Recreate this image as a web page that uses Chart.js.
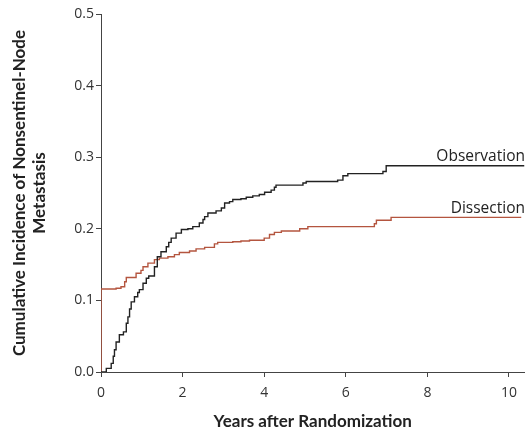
<!DOCTYPE html>
<html>
<head>
<meta charset="utf-8">
<script src="https://cdn.jsdelivr.net/npm/chart.js@4"></script>
<style>
  html, body { margin: 0; padding: 0; background: #fff; }
  #wrap { width: 525px; height: 433px; }
</style>
</head>
<body>
<div id="wrap"><canvas id="incidenceChart"></canvas></div>
<script>
// Observation arm: years after randomization and cumulative incidence
const obsYears = [0, 0.13, 0.25, 0.30, 0.33, 0.37, 0.45, 0.55, 0.62, 0.66, 0.70, 0.74, 0.82, 0.90, 0.94,
    1.03, 1.11, 1.17, 1.31, 1.38, 1.47, 1.60, 1.66, 1.72, 1.84, 1.97, 2.13, 2.25, 2.41, 2.50, 2.54,
    2.62, 2.82, 2.95, 3.03, 3.15, 3.23, 3.43, 3.56, 3.72, 3.88, 4.01, 4.17, 4.25, 4.29, 4.95, 5.03,
    5.80, 5.93, 6.05, 6.91, 6.99, 10.38];
const obsValues = [0, 0.005, 0.012, 0.022, 0.031, 0.042, 0.052, 0.056, 0.068, 0.077, 0.088, 0.098, 0.105, 0.111, 0.115,
    0.124, 0.131, 0.134, 0.147, 0.161, 0.168, 0.175, 0.181, 0.187, 0.194, 0.199, 0.200, 0.203, 0.208, 0.213, 0.217,
    0.222, 0.225, 0.229, 0.236, 0.238, 0.241, 0.242, 0.244, 0.246, 0.248, 0.251, 0.254, 0.258, 0.261, 0.264, 0.266,
    0.268, 0.274, 0.277, 0.280, 0.288, 0.288];

// Dissection arm
const dissYears = [0, 0, 0.37, 0.49, 0.58, 0.62, 0.86, 0.98, 1.03, 1.15, 1.31, 1.43, 1.64, 1.80, 1.92,
    2.17, 2.33, 2.54, 2.78, 2.86, 3.23, 3.43, 3.64, 4.00, 4.13, 4.25, 4.42, 4.87, 5.07, 6.70, 6.75, 7.11, 10.3];
const dissValues = [0, 0.116, 0.117, 0.119, 0.126, 0.132, 0.138, 0.142, 0.147, 0.152, 0.157, 0.159, 0.161, 0.164, 0.167,
    0.169, 0.172, 0.174, 0.179, 0.181, 0.182, 0.183, 0.184, 0.187, 0.192, 0.195, 0.197, 0.200, 0.203, 0.207, 0.212, 0.216, 0.216];

const seriesNames = ['Observation', 'Dissection'];
const xTitle = 'Years after Randomization';
const yTitle = ['Cumulative Incidence of Nonsentinel-Node', 'Metastasis'];

const toPoints = (xs, ys) => xs.map((x, i) => ({ x: x, y: ys[i] }));

// writes the arm name just above the end of each curve
const curveLabels = {
    id: 'curveLabels',
    afterDatasetsDraw(chart) {
        const ctx = chart.ctx;
        const xs = chart.scales.x, ys = chart.scales.y;
        const spots = [
            { text: seriesNames[0], x: 8.22, y: obsValues[obsValues.length - 1] },
            { text: seriesNames[1], x: 8.57, y: dissValues[dissValues.length - 1] }
        ];
        ctx.save();
        ctx.font = '15.5px "Open Sans", sans-serif';
        ctx.fillStyle = '#222';
        ctx.textBaseline = 'bottom';
        ctx.textAlign = 'left';
        spots.forEach(s => {
            ctx.fillText(s.text, xs.getPixelForValue(s.x), ys.getPixelForValue(s.y) - 1);
        });
        ctx.restore();
    }
};

new Chart(document.getElementById('incidenceChart'), {
    type: 'line',
    data: {
        datasets: [{
            label: seriesNames[0],
            data: toPoints(obsYears, obsValues),
            borderColor: '#222',
            borderWidth: 1.4,
            stepped: true,
            pointRadius: 0
        }, {
            label: seriesNames[1],
            data: toPoints(dissYears, dissValues),
            borderColor: '#b4553f',
            borderWidth: 1.4,
            stepped: true,
            pointRadius: 0
        }]
    },
    options: {
        responsive: true,
        maintainAspectRatio: false,
        animation: false,
        layout: { padding: { top: 14, right: 0, left: 0, bottom: 0 } },
        plugins: {
            legend: { display: false },
            tooltip: { enabled: false }
        },
        scales: {
            x: {
                type: 'linear',
                min: 0,
                max: 10.38,
                border: { display: true, color: '#444', width: 1 },
                grid: { drawOnChartArea: false, drawTicks: true, tickLength: 5, color: '#444' },
                ticks: {
                    stepSize: 2,
                    includeBounds: false,
                    color: '#333',
                    font: { family: '"Open Sans", sans-serif', size: 14 },
                    padding: 8,
                    callback: v => v
                },
                title: {
                    display: true,
                    text: xTitle,
                    color: '#222',
                    font: { family: 'Lato, sans-serif', size: 17, weight: 'bold' },
                    padding: { top: 8, bottom: 1 }
                },
                afterFit: s => { s.height = 61; }
            },
            y: {
                min: 0,
                max: 0.5,
                border: { display: true, color: '#444', width: 1 },
                grid: { drawOnChartArea: false, drawTicks: true, tickLength: 5, color: '#444' },
                ticks: {
                    stepSize: 0.1,
                    color: '#333',
                    font: { family: '"Open Sans", sans-serif', size: 14 },
                    padding: 2,
                    callback: v => v.toFixed(1)
                },
                title: {
                    display: true,
                    text: yTitle,
                    color: '#222',
                    font: { family: 'Lato, sans-serif', size: 17, weight: 'bold', lineHeight: 1.15 },
                    padding: { top: 10, bottom: 0 }
                },
                afterFit: s => { s.width = 101; }
            }
        }
    },
    plugins: [curveLabels]
});
</script>
</body>
</html>
